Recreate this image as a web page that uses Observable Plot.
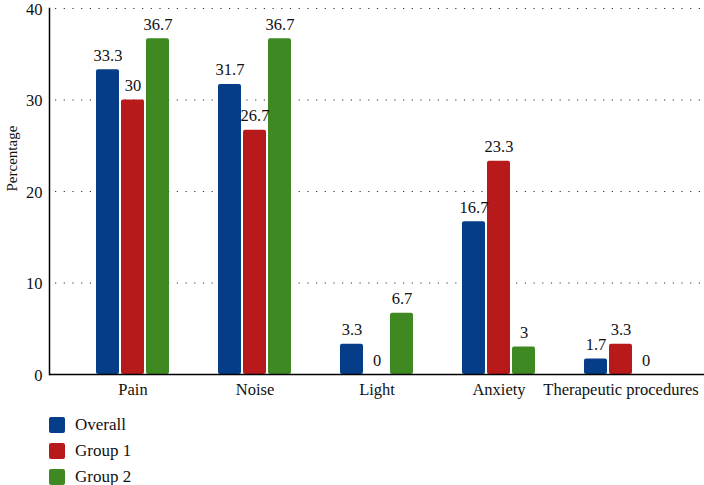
<!DOCTYPE html>
<html>
<head>
<meta charset="utf-8">
<script src="https://cdn.jsdelivr.net/npm/d3@7"></script>
<script src="https://cdn.jsdelivr.net/npm/@observablehq/plot@0.6"></script>
<style>
  body { margin: 0; background: #fff; }
  #chart { position: relative; width: 704px; height: 405px; }
  #chart svg { position: absolute; left: 0; top: 0; }
  #legend { font-family: "Liberation Serif", serif; font-size: 17px; color: #111; padding-top: 12px; margin-left: 49px; }
  .row { display: flex; align-items: center; height: 16px; margin-bottom: 10px; }
  .sw { width: 16px; height: 16px; border-radius: 2px; margin-right: 10px; }
</style>
</head>
<body>
<div id="chart"></div>
<div id="legend"></div>
<script>
const categories = ["Pain", "Noise", "Light", "Anxiety", "Therapeutic procedures"];
const seriesNames = ["Overall", "Group 1", "Group 2"];
const overall = [33.3, 31.7, 3.3, 16.7, 1.7];
const group1 = [30, 26.7, 0, 23.3, 3.3];
const group2 = [36.7, 36.7, 6.7, 3, 0];
const yTicks = [0, 10, 20, 30, 40];
const colors = ["#053d88", "#b8191b", "#3e8922"];

const seriesValues = [overall, group1, group2];
const data = [];
categories.forEach((c, i) => {
  seriesNames.forEach((s, j) => data.push({cat: c, series: s, value: seriesValues[j][i]}));
});

const font = "Liberation Serif, serif";
const fs = 16.5;
const common = {
  width: 704,
  height: 405,
  marginLeft: 49,
  marginRight: 0,
  marginTop: 8,
  marginBottom: 31,
  y: {domain: [0, 40], axis: null}
};

// Background layer: grid, axis line, y tick labels, y label
const back = Plot.plot({
  ...common,
  style: {fontFamily: font, fontSize: fs + "px", color: "#111", background: "white"},
  marks: [
    Plot.ruleY(yTicks.slice(1), {stroke: "#333", strokeWidth: 1.2, strokeDasharray: "1.2,7.5", strokeDashoffset: -6}),
    Plot.frame({anchor: "left", stroke: "#000", strokeWidth: 1.5}),
    Plot.axisY({ticks: yTicks, tickSize: 0, tickPadding: 7, label: null, fontSize: fs, dy: 1}),
    Plot.text(["Percentage"], {frameAnchor: "left", dx: -37, rotate: -90, fontSize: 15, fill: "#111"})
  ]
});

// Foreground layer: grouped bars, value labels, category axis
const front = Plot.plot({
  ...common,
  style: {fontFamily: font, fontSize: fs + "px", color: "#111", background: "transparent"},
  fx: {domain: categories, paddingInner: 0.388, paddingOuter: 0.367, label: null, axis: null},
  x: {domain: seriesNames, axis: null, paddingInner: 0.08, paddingOuter: 0},
  color: {domain: seriesNames, range: colors},
  marks: [
    Plot.barY(data, {fx: "cat", x: "series", y: "value", fill: "series", rx: 2}),
    Plot.text(data, {fx: "cat", x: "series", y: "value", text: d => String(d.value), dy: -9, lineAnchor: "bottom", fontSize: fs, fill: "#111"}),
    Plot.axisFx({anchor: "bottom", tickSize: 0, tickPadding: 9, label: null, fontSize: fs})
  ]
});

// Baseline on top
const baseline = Plot.plot({
  ...common,
  style: {background: "transparent"},
  marks: [Plot.ruleY([0], {stroke: "#000", strokeWidth: 1.5})]
});

const chartDiv = document.getElementById("chart");
chartDiv.appendChild(back);
chartDiv.appendChild(front);
chartDiv.appendChild(baseline);

const legend = document.getElementById("legend");
seriesNames.forEach((s, i) => {
  const row = document.createElement("div");
  row.className = "row";
  const sw = document.createElement("div");
  sw.className = "sw";
  sw.style.background = colors[i];
  const t = document.createElement("span");
  t.textContent = s;
  row.appendChild(sw);
  row.appendChild(t);
  legend.appendChild(row);
});
</script>
</body>
</html>
